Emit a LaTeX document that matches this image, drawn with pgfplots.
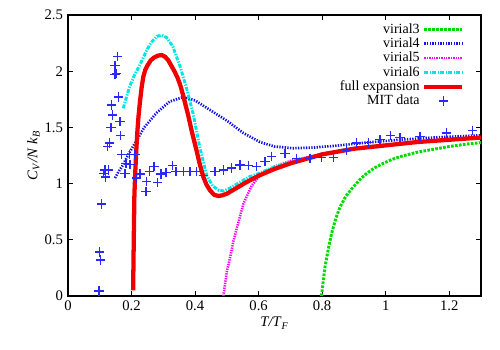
\documentclass[border=0pt]{standalone}
\usepackage{fontspec}
\setmainfont{Liberation Serif}
\usepackage{pgfplots}
\pgfplotsset{compat=1.18}
\definecolor{vgreen}{RGB}{0,220,0}
\definecolor{vblue}{RGB}{20,20,230}
\definecolor{vmag}{RGB}{255,0,255}
\definecolor{vcyan}{RGB}{0,230,230}
\definecolor{vred}{RGB}{240,0,0}
\definecolor{mblue}{RGB}{40,40,255}
\pgfplotsset{markleg/.style={legend image code/.code={\draw[mark repeat=2,mark phase=2,##1]
    plot coordinates {(0cm,0cm)(0.5cm,0cm)(1cm,0cm)};}}}
\begin{document}
\fontsize{11}{13}\selectfont
\begin{tikzpicture}
\useasboundingbox (-51pt,-40.5pt) rectangle (324pt,222pt);
\begin{axis}[
  scale only axis, width=309.75pt, height=210.75pt,
  at={(0,0)}, anchor=south west,
  xmin=0, xmax=1.3, ymin=0, ymax=2.5,
  xtick={0,0.2,...,1.2}, ytick={0,0.5,...,2.5},
  tick align=inside, major tick length=4pt,
  tick style={black, line width=0.6pt},
  axis line style={line width=0.9pt},
  /pgf/number format/assume math mode=true,
  ticklabel style={font=\fontsize{11}{13}\selectfont},
  xlabel={\textit{T/T}\textsubscript{\textit{F}}},
  ylabel={\textit{C}\textsubscript{\textit{V}}\textit{/N k}\textsubscript{\textit{B}}},
  xlabel style={yshift=3pt},
  ylabel style={yshift=-4pt},
  legend plot pos=right,
  legend cell align=right,
  legend style={draw=none, fill=none, at={(0.964,0.985)}, anchor=north east,
    font=\fontsize{10.5}{11}\selectfont, row sep=-2.2pt, inner sep=1pt},
  legend image code/.code={\draw[#1] (0cm,0cm) -- (1cm,0cm);},
]
\addplot[vgreen, line width=2.2pt, dash pattern=on 2pt off 1pt] coordinates {
(0.798,0)(0.802,0.1)(0.809,0.26)(0.82,0.43)(0.83,0.56)(0.843,0.69)(0.856,0.79)(0.875,0.89)
(0.898,0.97)(0.92,1.04)(0.94,1.09)(0.965,1.14)(0.992,1.18)(1.02,1.215)(1.045,1.24)(1.1,1.28)
(1.15,1.305)(1.2,1.33)(1.25,1.35)(1.3,1.365)};
\addlegendentry{virial3}
\addplot[vblue, line width=2pt, dash pattern=on 1pt off 1pt] coordinates {
(0.148,1.05)(0.16,1.11)(0.174,1.17)(0.19,1.26)(0.211,1.36)(0.24,1.50)(0.279,1.63)(0.32,1.73)
(0.363,1.77)(0.40,1.74)(0.447,1.655)(0.5,1.56)(0.552,1.45)(0.604,1.37)(0.65,1.33)(0.709,1.315)
(0.77,1.32)(0.835,1.335)(0.94,1.365)(1.045,1.39)(1.15,1.41)(1.3,1.43)};
\addlegendentry{virial4}
\addplot[vmag, line width=1.9pt, dash pattern=on 1pt off 0.8pt] coordinates {
(0.489,0)(0.494,0.1)(0.50,0.22)(0.51,0.34)(0.52,0.48)(0.531,0.6)(0.552,0.82)(0.578,0.98)
(0.6,1.06)(0.625,1.11)(0.65,1.15)(0.678,1.18)(0.71,1.21)(0.8,1.26)(0.9,1.31)(1.0,1.34)
(1.1,1.37)(1.2,1.39)(1.3,1.41)};
\addlegendentry{virial5}
\addplot[vcyan, line width=2.2pt, dash pattern=on 3pt off 1pt on 1pt off 1pt] coordinates {
(0.174,1.67)(0.185,1.78)(0.195,1.87)(0.21,1.97)(0.227,2.06)(0.245,2.17)(0.26,2.25)(0.28,2.31)
(0.295,2.32)(0.31,2.30)(0.33,2.22)(0.353,2.04)(0.375,1.83)(0.394,1.62)(0.415,1.32)(0.437,1.07)
(0.455,0.98)(0.475,0.94)(0.49,0.935)(0.51,0.96)(0.54,1.01)(0.57,1.06)(0.6,1.09)(0.65,1.15)
(0.7,1.19)(0.8,1.265)(0.9,1.315)(1.0,1.345)(1.1,1.37)(1.2,1.39)(1.3,1.41)};
\addlegendentry{virial6}
\addplot[vred, line width=3.2pt, line join=round] coordinates {
(0.205,0.05)(0.207,0.5)(0.209,0.9)(0.212,1.12)(0.215,1.3)(0.218,1.45)(0.222,1.6)(0.227,1.74)
(0.232,1.86)(0.237,1.95)(0.243,2.01)(0.25,2.05)(0.26,2.095)(0.27,2.12)(0.282,2.138)(0.295,2.144)
(0.305,2.13)(0.315,2.1)(0.325,2.05)(0.335,2.0)(0.345,1.94)(0.353,1.88)(0.362,1.79)(0.37,1.70)
(0.379,1.60)(0.39,1.46)(0.398,1.37)(0.405,1.29)(0.415,1.17)(0.426,1.06)(0.436,0.99)(0.447,0.94)
(0.46,0.9)(0.473,0.89)(0.485,0.895)(0.5,0.91)(0.53,0.96)(0.56,1.01)(0.6,1.07)(0.65,1.13)
(0.7,1.18)(0.8,1.26)(0.9,1.31)(1.0,1.34)(1.1,1.37)(1.2,1.39)(1.3,1.41)};
\addlegendentry{full expansion}
\addplot[only marks, mark=+, mark size=3.5pt, mblue, line width=1pt, markleg,
  mark options={draw=mblue}] coordinates {
(0.098,0.045)(0.099,0.39)(0.103,0.32)(0.106,0.82)
(0.111,1.09)(0.116,1.12)(0.119,1.06)(0.127,1.12)(0.125,1.33)(0.130,1.36)(0.135,1.50)
(0.140,1.61)(0.137,1.70)(0.148,1.97)(0.153,1.98)(0.148,2.05)(0.155,2.13)(0.160,1.77)
(0.164,1.55)(0.166,1.43)(0.169,1.26)(0.179,1.09)(0.183,1.18)(0.193,1.26)(0.195,1.17)
(0.211,1.26)(0.216,1.05)(0.227,1.085)(0.245,0.93)(0.248,1.02)(0.256,1.11)(0.271,1.15)
(0.281,1.01)(0.293,1.085)(0.308,1.10)(0.328,1.16)(0.340,1.11)(0.363,1.11)(0.384,1.11)
(0.405,1.11)(0.426,1.07)(0.463,1.11)(0.489,1.12)(0.515,1.14)(0.541,1.165)(0.568,1.16)
(0.594,1.15)(0.620,1.195)(0.641,1.24)(0.683,1.27)(0.720,1.225)(0.762,1.225)(0.798,1.235)
(0.835,1.235)(0.877,1.30)(0.909,1.36)(0.945,1.365)(0.982,1.39)(1.016,1.43)(1.045,1.41)
(1.108,1.42)(1.192,1.45)(1.274,1.47)};
\addlegendentry{MIT data}
\end{axis}
\end{tikzpicture}
\end{document}
